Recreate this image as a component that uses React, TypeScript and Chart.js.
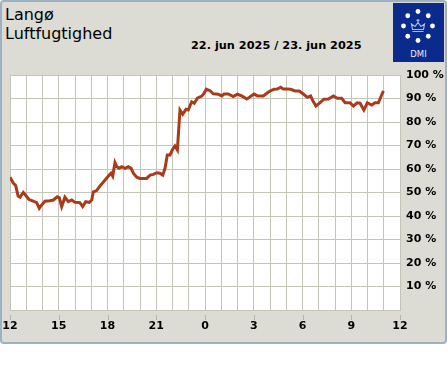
import React, { useEffect, useRef } from "react";
import { Chart, registerables } from "chart.js";

Chart.register(...registerables);

// Hours since 12:00 on 22 June
const hours: number[] = [
  0.0, 0.2, 0.35, 0.5, 0.62, 0.82, 1.0, 1.17, 1.43, 1.64, 1.8, 1.95, 2.15, 2.46, 2.67, 2.91,
  3.03, 3.18, 3.38, 3.59, 3.8, 4.0, 4.3, 4.47, 4.66, 4.88, 5.03, 5.13, 5.33, 5.54, 5.85,
  6.11, 6.22, 6.32, 6.46, 6.57, 6.71, 6.87, 7.08, 7.28, 7.45, 7.59, 7.8, 8.0, 8.41, 8.62,
  8.82, 9.03, 9.23, 9.4, 9.54, 9.68, 9.85, 10.01, 10.15, 10.3, 10.46, 10.63, 10.83, 10.97,
  11.18, 11.34, 11.53, 11.8, 11.94, 12.08, 12.31, 12.51, 12.82, 13.03, 13.17, 13.43, 13.74,
  13.99, 14.26, 14.57, 14.73, 15.02, 15.22, 15.59, 15.8, 16.0, 16.25, 16.45, 16.66, 16.82,
  17.06, 17.27, 17.54, 17.8, 18.05, 18.3, 18.5, 18.67, 18.83, 19.08, 19.32, 19.59, 19.9,
  20.14, 20.41, 20.62, 20.92, 21.13, 21.37, 21.54, 21.78, 21.99, 22.26, 22.46, 22.67, 22.87,
  22.98,
];

// Relative humidity, %
const humidity: number[] = [
  56.5, 54, 53, 48.5, 48, 50, 48.5, 47, 46.3, 45.7, 43.3, 44.7, 46.3, 46.5, 46.8, 48.2,
  47.8, 44, 48, 46.1, 46.8, 45.8, 45.7, 44, 46.1, 45.8, 46.8, 50.3, 50.8, 52.8, 55.3,
  57.4, 58.2, 57, 62.7, 61, 60.3, 61, 60.3, 61, 60.3, 58.2, 56.5, 56, 56, 57.4,
  57.7, 58.4, 58.2, 57.4, 60.3, 66, 66, 68.4, 69.8, 68.1, 85.1, 83.3, 85.4, 85.1,
  88.6, 88, 90.1, 91, 92.2, 94, 93.3, 92, 91.8, 91.1, 91.9, 91.9, 90.8,
  91.8, 91.1, 89.8, 90.5, 91.9, 91.1, 91.1, 92.2, 93.2, 93.9, 94, 94.8, 94,
  94, 93.9, 93.2, 93.2, 91.9, 90.5, 91.1, 88.6, 86.8, 88.2, 89.7, 89.8, 91.1,
  90.1, 90.1, 88.2, 88.2, 86.8, 88.2, 88, 85.1, 88.2, 87.2, 88.2, 88.2, 91.5,
  93.2,
];

const startHour = 12;
const xLabelStep = 3;
const yLabelSuffix = " %";

const titleStation = "Langø";
const titleParam = "Luftfugtighed";
const dateText = "22. jun 2025 / 23. jun 2025";

const FONT = "'DejaVu Sans', sans-serif";
const GRID = "#c4c4b8";
const LINE = "#a83c1a";
const PANEL = "#dcdcd4";

export default function App() {
  const ref = useRef<HTMLCanvasElement | null>(null);

  useEffect(() => {
    if (!ref.current) return;
    const plotBg = {
      id: "plotBg",
      beforeDraw(chart: any) {
        const { ctx, chartArea } = chart;
        ctx.save();
        ctx.fillStyle = "#ffffff";
        ctx.fillRect(chartArea.left, chartArea.top, chartArea.right - chartArea.left, chartArea.bottom - chartArea.top);
        ctx.restore();
      },
    };
    const tickMarks = {
      id: "tickMarks",
      afterDraw(chart: any) {
        const { ctx, chartArea, scales } = chart;
        const xs = scales.x;
        ctx.save();
        ctx.strokeStyle = "#b4b4a8";
        ctx.lineWidth = 1;
        for (let v = 0; v <= 24; v += xLabelStep) {
          const px = Math.round(xs.getPixelForValue(v)) + 0.5;
          ctx.beginPath();
          ctx.moveTo(px, chartArea.bottom + 5);
          ctx.lineTo(px, chartArea.bottom + 10);
          ctx.stroke();
        }
        ctx.restore();
      },
    };
    const chart = new Chart(ref.current, {
      type: "line",
      data: {
        datasets: [
          {
            data: hours.map((h, i) => ({ x: h, y: humidity[i] })),
            borderColor: LINE,
            borderWidth: 3,
            pointRadius: 0,
            tension: 0,
            fill: false,
          },
        ],
      },
      options: {
        animation: false,
        responsive: false,
        maintainAspectRatio: false,
        devicePixelRatio: 1,
        layout: { padding: { left: 10, top: 75, right: 0, bottom: 0 } },
        plugins: { legend: { display: false }, tooltip: { enabled: false } },
        scales: {
          x: {
            type: "linear",
            min: 0,
            max: 24,
            afterFit: (s: any) => {
              s.height = 34;
              s.paddingLeft = 0;
              s.paddingRight = 0;
            },
            grid: { color: GRID, lineWidth: 1, drawTicks: false },
            border: { display: true, color: GRID },
            ticks: {
              stepSize: 1,
              autoSkip: false,
              maxRotation: 0,
              padding: 10,
              color: "#000",
              font: { family: FONT, size: 11, weight: "bold" },
              callback: (v: any) => (Number(v) % xLabelStep === 0 ? String((startHour + Number(v)) % 24) : ""),
            },
          },
          y: {
            position: "right",
            min: 0,
            max: 100,
            afterFit: (s: any) => {
              s.width = 47;
              s.paddingTop = 0;
              s.paddingBottom = 0;
            },
            grid: { color: GRID, lineWidth: 1, drawTicks: false },
            border: { display: true, color: GRID },
            ticks: {
              stepSize: 10,
              padding: 6,
              color: "#000",
              font: { family: FONT, size: 11, weight: "bold" },
              callback: (v: any) => (Number(v) === 0 ? "" : v + yLabelSuffix),
            },
          },
        },
      },
      plugins: [plotBg, tickMarks],
    } as any);
    return () => chart.destroy();
  }, []);

  return (
    <div style={{ position: "fixed", left: 0, top: 0, width: 447, height: 370, background: "#fff", fontFamily: FONT }}>
      <div
        style={{
          position: "absolute",
          left: 0,
          top: 0,
          width: 447,
          height: 344,
          boxSizing: "border-box",
          background: PANEL,
          border: "2px solid #9cb1c1",
          borderRadius: 4,
        }}
      />
      <div style={{ position: "absolute", left: 5, top: 4.5, fontSize: 16, lineHeight: "20px", color: "#000", whiteSpace: "nowrap" }}>
        {titleStation}
      </div>
      <div style={{ position: "absolute", left: 5, top: 24, fontSize: 16, lineHeight: "20px", color: "#000", whiteSpace: "nowrap" }}>
        {titleParam}
      </div>
      <div style={{ position: "absolute", left: 191, top: 39, fontSize: 11.3, fontWeight: "bold", lineHeight: "13px", color: "#000", whiteSpace: "nowrap" }}>
        {dateText}
      </div>
      <svg style={{ position: "absolute", left: 393, top: 3 }} width={51} height={59} viewBox="0 0 51 59">
        <rect x={0} y={0} width={51} height={59} fill="#0a2a8c" />
        {[0, 45, 90, 135, 180, 225, 270, 315].map((a) => (
          <circle
            key={a}
            cx={25 + 14.5 * Math.cos((a * Math.PI) / 180)}
            cy={23 + 14.5 * Math.sin((a * Math.PI) / 180)}
            r={2.4}
            fill="#ffffff"
          />
        ))}
        <path
          d="M19.5 28.5 L30.5 28.5 M19.5 26.5 L18.5 21 L22 23.5 L25 19.5 L28 23.5 L31.5 21 L30.5 26.5 Z M25 16 L25 19 M23.5 17.3 L26.5 17.3"
          stroke="#a9bde6"
          strokeWidth={1.2}
          fill="none"
        />
        <text x={25.5} y={54} textAnchor="middle" fontFamily={FONT} fontSize={8.5} fill="#e8eefa">
          DMI
        </text>
      </svg>
      <div style={{ position: "absolute", left: 0, top: 0, width: 447, height: 344 }}>
        <canvas ref={ref} width={447} height={344} style={{ display: "block", width: 447, height: 344 }} />
      </div>
    </div>
  );
}
